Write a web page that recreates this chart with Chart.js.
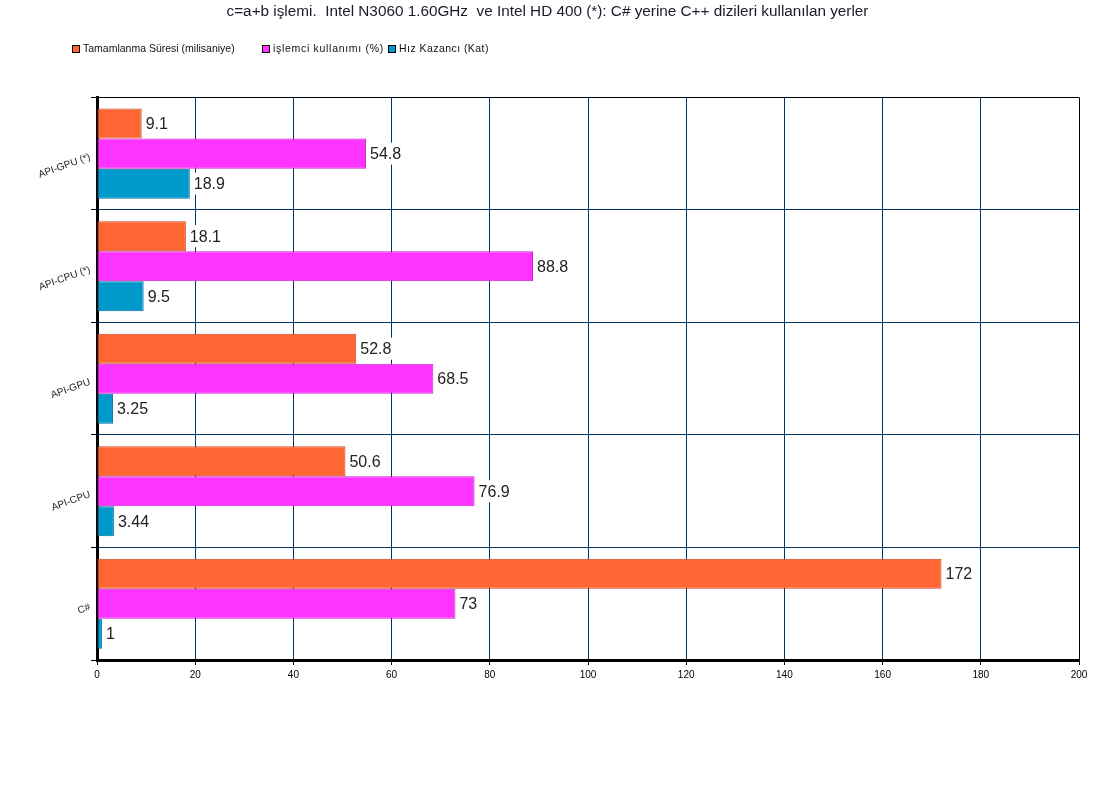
<!DOCTYPE html>
<html>
<head>
<meta charset="utf-8">
<script src="https://cdn.jsdelivr.net/npm/chart.js@4/dist/chart.umd.min.js"></script>
<style>
    html, body { margin: 0; padding: 0; background: #fff; }
    #wrap { width: 1095px; height: 805px; }
</style>
</head>
<body>
<div id="wrap"><canvas id="chart"></canvas></div>
<script>
// 資料
const categories = ['API-GPU (*)', 'API-CPU (*)', 'API-GPU', 'API-CPU', 'C#'];
const sureValues = [9.1, 18.1, 52.8, 50.6, 172];
const islemciValues = [54.8, 88.8, 68.5, 76.9, 73];
const hizValues = [18.9, 9.5, 3.25, 3.44, 1];
const seriesNames = ['Tamamlanma Süresi (milisaniye)', 'işlemci kullanımı (%)', 'Hız Kazancı (Kat)'];
const xTicks = [0, 20, 40, 60, 80, 100, 120, 140, 160, 180, 200];

const FONT = '"Liberation Sans", Arial, sans-serif';
const GRID = '#003366';

// 數值標籤（白底）
const valueLabels = {
    id: 'valueLabels',
    afterDatasetsDraw(chart) {
        const ctx = chart.ctx;
        ctx.save();
        ctx.font = '16px ' + FONT;
        ctx.textBaseline = 'middle';
        chart.data.datasets.forEach((ds, di) => {
            const meta = chart.getDatasetMeta(di);
            meta.data.forEach((bar, i) => {
                const txt = String(ds.data[i]);
                const w = ctx.measureText(txt).width;
                ctx.fillStyle = '#fff';
                ctx.fillRect(bar.x + 2, bar.y - 11, w + 5, 22);
                ctx.fillStyle = '#222';
                ctx.fillText(txt, bar.x + 4, bar.y + 1);
            });
        });
        ctx.restore();
    }
};

// 圖例
const legendRow = {
    id: 'legendRow',
    afterDraw(chart) {
        const ctx = chart.ctx;
        const xs = [72, 262, 388];
        const spacing = ['0px', '0.7px', '0.45px'];
        ctx.save();
        ctx.font = '10.5px ' + FONT;
        ctx.textBaseline = 'middle';
        chart.data.datasets.forEach((ds, i) => {
            const x = xs[i];
            ctx.fillStyle = ds.backgroundColor;
            ctx.fillRect(x, 45, 7, 7);
            ctx.strokeStyle = '#000';
            ctx.lineWidth = 1;
            ctx.strokeRect(x + 0.5, 45.5, 7, 7);
            ctx.fillStyle = '#111';
            ctx.letterSpacing = spacing[i];
            ctx.fillText(ds.label, x + 11, 49);
        });
        ctx.restore();
    }
};

new Chart(document.getElementById('chart'), {
    type: 'bar',
    data: {
        labels: categories,
        datasets: [
            { label: seriesNames[0], data: sureValues, backgroundColor: '#FF6633', borderColor: '#CC4422' },
            { label: seriesNames[1], data: islemciValues, backgroundColor: '#FF33FF', borderColor: '#CC22CC' },
            { label: seriesNames[2], data: hizValues, backgroundColor: '#0099CC', borderColor: '#006E99' }
        ]
    },
    options: {
        indexAxis: 'y',
        responsive: true,
        maintainAspectRatio: false,
        animation: false,
        datasets: {
            bar: { borderWidth: 1, borderSkipped: false, categoryPercentage: 0.8, barPercentage: 1 }
        },
        layout: { padding: { left: 0, right: 0, top: 0, bottom: 121 } },
        plugins: {
            legend: { display: false },
            tooltip: { enabled: false },
            title: {
                display: true,
                text: 'c=a+b işlemi.  Intel N3060 1.60GHz  ve Intel HD 400 (*): C# yerine C++ dizileri kullanılan yerler',
                color: '#1a1a2a',
                font: { family: FONT, size: 15.3, weight: 'normal' },
                padding: { top: 3, bottom: 76 }
            }
        },
        scales: {
            x: {
                min: 0,
                max: 200,
                afterBuildTicks: s => { s.ticks = xTicks.map(v => ({ value: v })); },
                afterFit: s => { s.height = 24; s.paddingRight = 16; },
                ticks: { color: '#000', padding: 4, font: { family: FONT, size: 10 } },
                grid: {
                    color: c => c.index === xTicks.length - 1 ? '#000' : GRID,
                    lineWidth: 1,
                    tickColor: '#000',
                    tickLength: 5
                },
                border: { color: '#000', width: 3 }
            },
            y: {
                afterFit: s => { s.width = 97; },
                ticks: {
                    color: '#222',
                    padding: 1,
                    labelOffset: 3,
                    minRotation: 20,
                    maxRotation: 20,
                    font: { family: FONT, size: 10 }
                },
                grid: {
                    offset: true,
                    color: c => c.index === 0 ? '#000' : GRID,
                    lineWidth: 1,
                    tickColor: '#000',
                    tickLength: 6
                },
                border: { color: '#000', width: 3 }
            }
        }
    },
    plugins: [valueLabels, legendRow]
});
</script>
</body>
</html>
